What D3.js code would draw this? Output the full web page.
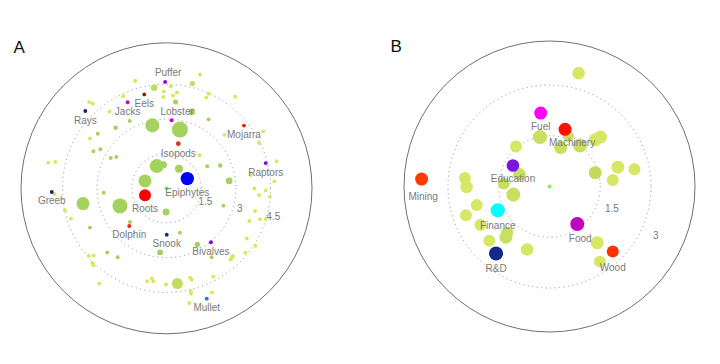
<!DOCTYPE html>
<html>
<head>
<meta charset="utf-8">
<script src="https://cdn.jsdelivr.net/npm/d3@7"></script>
<style>
  body { margin: 0; background: #fff; }
  text { font-family: "Liberation Sans", Arial, sans-serif; }
</style>
</head>
<body>
<div id="chart"></div>
<script>
// ---- data: panel A  [name, x, y, size]
const keysA = [
  ["Puffer", -0.06, 4.60, 6], ["Eels", -0.96, 4.06, 6], ["Jacks", -1.68, 3.72, 6],
  ["Rays", -3.51, 3.34, 6], ["Lobster", 0.22, 2.94, 6], ["Mojarra", 3.35, 2.71, 6],
  ["Raptors", 4.29, 1.09, 6], ["Isopods", 0.51, 1.93, 9], ["Epiphytes", 0.90, 0.42, 70],
  ["Roots", -0.93, -0.30, 56], ["Greeb", -4.96, -0.16, 6], ["Dolphin", -1.61, -1.63, 6],
  ["Snook", 0.01, -2.01, 6], ["Bivalves", 1.92, -2.33, 6], ["Mullet", 1.74, -4.77, 6]
];
// unlabelled points A  [x, y, size, tone]
const dotsA = [
  [-1.35, 4.64, 6, "y"], [-0.53, 4.35, 17, "m"], [-0.12, 4.18, 6, "y"], [0.18, 4.41, 6, "y"],
  [0.45, 4.14, 6, "y"], [-0.14, 3.95, 6, "y"], [0.28, 4.01, 6, "y"], [0.39, 3.73, 10, "g"],
  [-3.34, 3.73, 6, "y"], [-3.19, 3.66, 6, "y"], [-1.87, 3.98, 6, "y"], [-2.46, 3.32, 6, "y"],
  [-1.59, 2.91, 6, "g"], [-2.20, 2.62, 8, "g"], [-2.97, 2.36, 6, "g"], [-3.31, 2.15, 6, "y"],
  [-3.16, 1.60, 6, "g"], [-2.86, 1.69, 6, "g"], [-2.41, 1.31, 6, "g"], [-2.17, 1.35, 6, "g"],
  [-5.11, 1.11, 6, "y"], [-4.81, 1.14, 6, "y"], [-0.61, 2.72, 77, "g"], [0.58, 2.54, 100, "g"],
  [-0.42, 0.96, 77, "g"], [-0.13, 1.02, 19, "g"], [0.54, 0.84, 25, "g"], [-0.93, 0.32, 66, "g"],
  [-2.71, -0.19, 6, "g"], [-4.85, -0.25, 6, "y"], [-3.61, -0.66, 66, "g"], [-2.01, -0.76, 88, "g"],
  [1.10, 3.31, 17, "g"], [1.82, 2.98, 6, "g"], [2.97, 3.96, 6, "y"], [1.45, 4.92, 6, "y"],
  [1.12, 4.53, 10, "m"], [1.82, 4.09, 6, "y"], [1.72, 3.92, 6, "y"], [2.51, 2.31, 6, "y"],
  [4.18, 2.46, 6, "y"], [4.00, 1.96, 6, "y"], [1.43, 1.43, 6, "y"], [4.76, 1.17, 6, "y"],
  [1.76, 0.95, 6, "g"], [2.32, 0.99, 8, "g"], [2.71, 0.32, 17, "g"], [3.64, 0.57, 6, "y"],
  [4.66, 0.30, 6, "y"], [3.80, -0.01, 6, "y"], [4.29, -0.09, 6, "y"], [4.01, -0.30, 6, "y"],
  [4.47, -0.36, 6, "y"], [-0.02, -1.02, 19, "g"], [2.46, -0.75, 6, "g"], [-1.58, -1.46, 6, "g"],
  [0.58, -1.92, 6, "g"], [3.83, -0.98, 6, "y"], [3.58, -1.41, 6, "y"], [4.04, -1.34, 6, "y"],
  [4.29, -1.33, 6, "y"], [3.47, -2.17, 6, "y"], [3.84, -2.49, 6, "y"], [3.41, -2.78, 6, "y"],
  [1.33, -2.43, 11, "g"], [1.95, -2.98, 6, "g"], [2.86, -2.94, 8, "y"], [2.78, -3.07, 8, "y"],
  [1.02, -3.86, 6, "y"], [1.09, -3.95, 6, "y"], [2.02, -3.82, 6, "y"], [0.47, -4.12, 47, "m"],
  [1.05, -4.45, 6, "y"], [1.06, -4.56, 6, "y"], [1.97, -4.50, 6, "y"], [0.99, -4.96, 6, "y"],
  [-4.39, -0.95, 6, "y"], [-4.13, -1.31, 6, "y"], [-3.31, -1.70, 6, "g"], [-0.28, -2.77, 14, "g"],
  [-2.56, -2.77, 6, "g"], [-2.11, -2.98, 6, "g"], [-3.36, -2.93, 6, "y"], [-3.15, -2.91, 6, "y"],
  [-3.21, -3.23, 6, "y"], [-3.15, -3.33, 6, "y"], [-2.91, -4.12, 6, "y"], [-0.84, -4.02, 6, "y"],
  [-0.63, -3.90, 6, "y"], [-0.57, -4.02, 6, "y"], [-0.02, -4.16, 6, "y"], [0, 0, 6, "c"]
];

// ---- data: panel B
const keysB = [
  ["Fuel", -0.26, 2.17, 66], ["Machinery", 0.46, 1.69, 66], ["Education", -1.08, 0.62, 62],
  ["Mining", -3.78, 0.22, 66], ["Finance", -1.53, -0.70, 77], ["R&D", -1.58, -1.98, 77],
  ["Food", 0.82, -1.11, 77], ["Wood", 1.87, -1.92, 56]
];
const dotsB = [
  [0.86, 3.35, 62, "y"], [-0.28, 1.46, 77, "m"], [0.56, 1.49, 47, "m"], [0.33, 1.15, 66, "m"],
  [0.90, 1.21, 77, "m"], [1.35, 1.38, 66, "y"], [1.51, 1.46, 66, "y"], [1.35, 0.41, 66, "g"],
  [2.02, 0.57, 66, "y"], [2.51, 0.51, 56, "y"], [1.87, 0.19, 56, "y"], [-0.99, 1.18, 56, "y"],
  [-0.89, 0.36, 62, "m"], [-1.35, 0.09, 56, "m"], [-1.07, -0.24, 77, "m"], [-2.50, 0.25, 56, "y"],
  [-2.45, -0.01, 62, "y"], [-2.15, -0.55, 56, "y"], [-2.47, -0.85, 56, "y"], [-2.04, -1.14, 56, "y"],
  [-1.25, -1.37, 56, "m"], [-1.29, -1.50, 66, "m"], [-1.78, -1.60, 56, "y"], [-0.66, -1.86, 62, "y"],
  [1.41, -1.66, 66, "y"], [1.49, -2.22, 56, "y"], [0, 0, 6, "c"]
];

const ringsA = [1.5, 3, 4.5];
const ringsB = [1.5, 3];

// ---- styles
const keyColours = {
  Puffer: "#9000d8", Eels: "#8b2a00", Jacks: "#d000d0", Rays: "#1a237e", Lobster: "#cc00cc",
  Mojarra: "#ee2200", Raptors: "#8a00e6", Isopods: "#e83010", Epiphytes: "#0000ff",
  Roots: "#ff0000", Greeb: "#1a237e", Dolphin: "#ff2200", Snook: "#1a2a80",
  Bivalves: "#8000e0", Mullet: "#1e78d0",
  Fuel: "#ff00ff", Machinery: "#ff1100", Education: "#7a16e0", Mining: "#ff3c00",
  Finance: "#00ffff", "R&D": "#15298a", Food: "#c000c0", Wood: "#ff3300"
};
const toneA = { g: "#a5d25f", y: "#d7e85f", m: "#bedc5f", c: "#80f060" };
const toneB = { g: "#c4d960", y: "#d6e665", m: "#c9df60", c: "#80f060" };
const labelNudge = {
  Puffer: { dx: 3, above: true }, Lobster: { dx: 5.5, above: true },
  Machinery: { dx: 7 }, Mining: { dx: 1.5, dy: 4 }, Wood: { dy: 3 }, Food: { dx: 3 },
  Finance: { dy: 1 }, "R&D": { dy: 1 }
};

const width = 720, height = 364;
const size = d3.scaleSqrt().domain([0, 100]).range([0, 8]);

const svg = d3.select("#chart").append("svg")
  .attr("width", width).attr("height", height)
  .style("background", "#fff");

function drawPanel(p, dots, keys, rings, tones) {
  const g = svg.append("g").attr("transform", "translate(" + p.cx + "," + p.cy + ")");
  const r = d3.scaleLinear().domain([0, p.maxR]).range([0, p.R]);
  const x = d3.scaleLinear().domain([-p.maxR, p.maxR]).range([-p.R, p.R]);
  const y = d3.scaleLinear().domain([-p.maxR, p.maxR]).range([p.R, -p.R]);

  g.append("circle")
    .attr("r", r(p.maxR))
    .attr("fill", "none")
    .attr("stroke", "#707070")
    .attr("stroke-width", 1);

  g.selectAll(".ring").data(rings).join("circle")
    .attr("class", "ring")
    .attr("r", d => r(d))
    .attr("fill", "none")
    .attr("stroke", "#8a8a8a")
    .attr("stroke-width", 1)
    .attr("stroke-dasharray", "1,3.5");

  g.selectAll(".ringlabel").data(rings).join("text")
    .attr("class", "ringlabel")
    .attr("x", (d, i) => (r(d) + p.ringOffset) * Math.cos(p.ringAngles[i] * Math.PI / 180))
    .attr("y", (d, i) => (r(d) + p.ringOffset) * Math.sin(p.ringAngles[i] * Math.PI / 180))
    .attr("dy", "0.35em")
    .attr("text-anchor", "middle")
    .style("font-size", "10px")
    .style("fill", "#777")
    .text(d => d);

  g.selectAll(".dot").data(dots).join("circle")
    .attr("class", "dot")
    .attr("cx", d => x(d[0]))
    .attr("cy", d => y(d[1]))
    .attr("r", d => size(d[2]))
    .attr("fill", d => tones[d[3]]);

  g.selectAll(".key").data(keys).join("circle")
    .attr("class", "key")
    .attr("cx", d => x(d[1]))
    .attr("cy", d => y(d[2]))
    .attr("r", d => size(d[3]))
    .attr("fill", d => keyColours[d[0]]);

  g.selectAll(".keylabel").data(keys).join("text")
    .attr("class", "keylabel")
    .attr("x", d => x(d[1]) + ((labelNudge[d[0]] || {}).dx || 0))
    .attr("y", d => {
      const n = labelNudge[d[0]] || {};
      if (n.above) return y(d[2]) - size(d[3]) - 3.5;
      return y(d[2]) + size(d[3]) + 10.5 + (n.dy || 0);
    })
    .attr("text-anchor", "middle")
    .style("font-size", "10px")
    .style("fill", "#7a7a7a")
    .text(d => d[0]);

  svg.append("text")
    .attr("x", p.letterX)
    .attr("y", p.letterY)
    .style("font-size", "17px")
    .style("fill", "#111")
    .text(p.letter);
}

drawPanel({ cx: 166.5, cy: 188.3, R: 145.5, maxR: 6.29, ringAngles: [19, 15.3, 15], ringOffset: 6.5,
            letter: "A", letterX: 13.5, letterY: 53 }, dotsA, keysA, ringsA, toneA);
drawPanel({ cx: 549.5, cy: 186.5, R: 145.5, maxR: 4.30, ringAngles: [19.5, 24.7], ringOffset: 15.5,
            letter: "B", letterX: 390.5, letterY: 52 }, dotsB, keysB, ringsB, toneB);
</script>
</body>
</html>
